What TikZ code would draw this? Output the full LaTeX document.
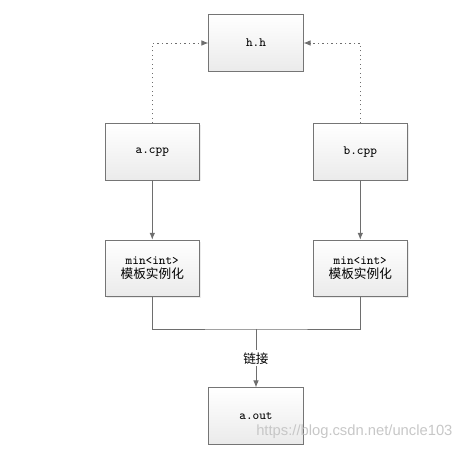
\documentclass[tikz,border=0pt]{standalone}
\usepackage{fontspec}
\setsansfont{Liberation Sans}
\newfontfamily\cjk{Noto Sans CJK SC}
\usetikzlibrary{arrows.meta,shadows}
\definecolor{linegray}{HTML}{6E6E6E}
\definecolor{boxline}{HTML}{757575}
\tikzset{
    filebox/.style={draw=boxline, line width=0.7pt, top color=white, bottom color=black!8,
        minimum width=2.35cm, minimum height=1.4cm, inner sep=0pt, align=center,
        font=\fontsize{9}{11}\selectfont\ttfamily,
        drop shadow={shadow xshift=1pt, shadow yshift=-1pt, fill=black!12, opacity=0.6}},
    link/.style={draw=linegray, line width=0.7pt},
    linkarrow/.style={link, -{Latex[length=5pt,width=4pt]}},
    includearrow/.style={linkarrow, dash pattern=on 1pt off 2.2pt}
}
\begin{document}
\begin{tikzpicture}[x=0.025cm, y=-0.025cm]
        % Canvas
        \useasboundingbox (0,0) rectangle (476,452);

        % Boxes
        \node[filebox] (hh) at (256,43) {h.h};
        \node[filebox] (acpp) at (152.3,152) {a.cpp};
        \node[filebox] (bcpp) at (360.3,152) {b.cpp};
        \node[filebox] (mina) at (152.3,268.3) {min<int>\\[-1pt]{\cjk\fontsize{9}{11}\selectfont 模板实例化}};
        \node[filebox] (minb) at (360.3,268.3) {min<int>\\[-1pt]{\cjk\fontsize{9}{11}\selectfont 模板实例化}};
        \node[filebox] (aout) at (256,416) {a.out};

        % Include lines
        \draw[includearrow] (acpp.north) |- (hh.west);
        \draw[includearrow] (bcpp.north) |- (hh.east);

        % Instantiation
        \draw[linkarrow] (acpp) -- (mina);
        \draw[linkarrow] (bcpp) -- (minb);

        % Linking
        \coordinate (join) at (256,329);
        \draw[link] (mina.south) |- (join) -| (minb.south);
        \draw[linkarrow] (join) -- node[fill=white, inner sep=1.5pt, font=\cjk\fontsize{9}{11}\selectfont] (linklabel) {链接} (aout);

        % Watermark
        \node[anchor=west, text=black!22, font=\sffamily\fontsize{10.5}{12}\selectfont, inner sep=0pt] (mark) at (256,432) {https://blog.csdn.net/uncle103};
    \end{tikzpicture}
\end{document}
